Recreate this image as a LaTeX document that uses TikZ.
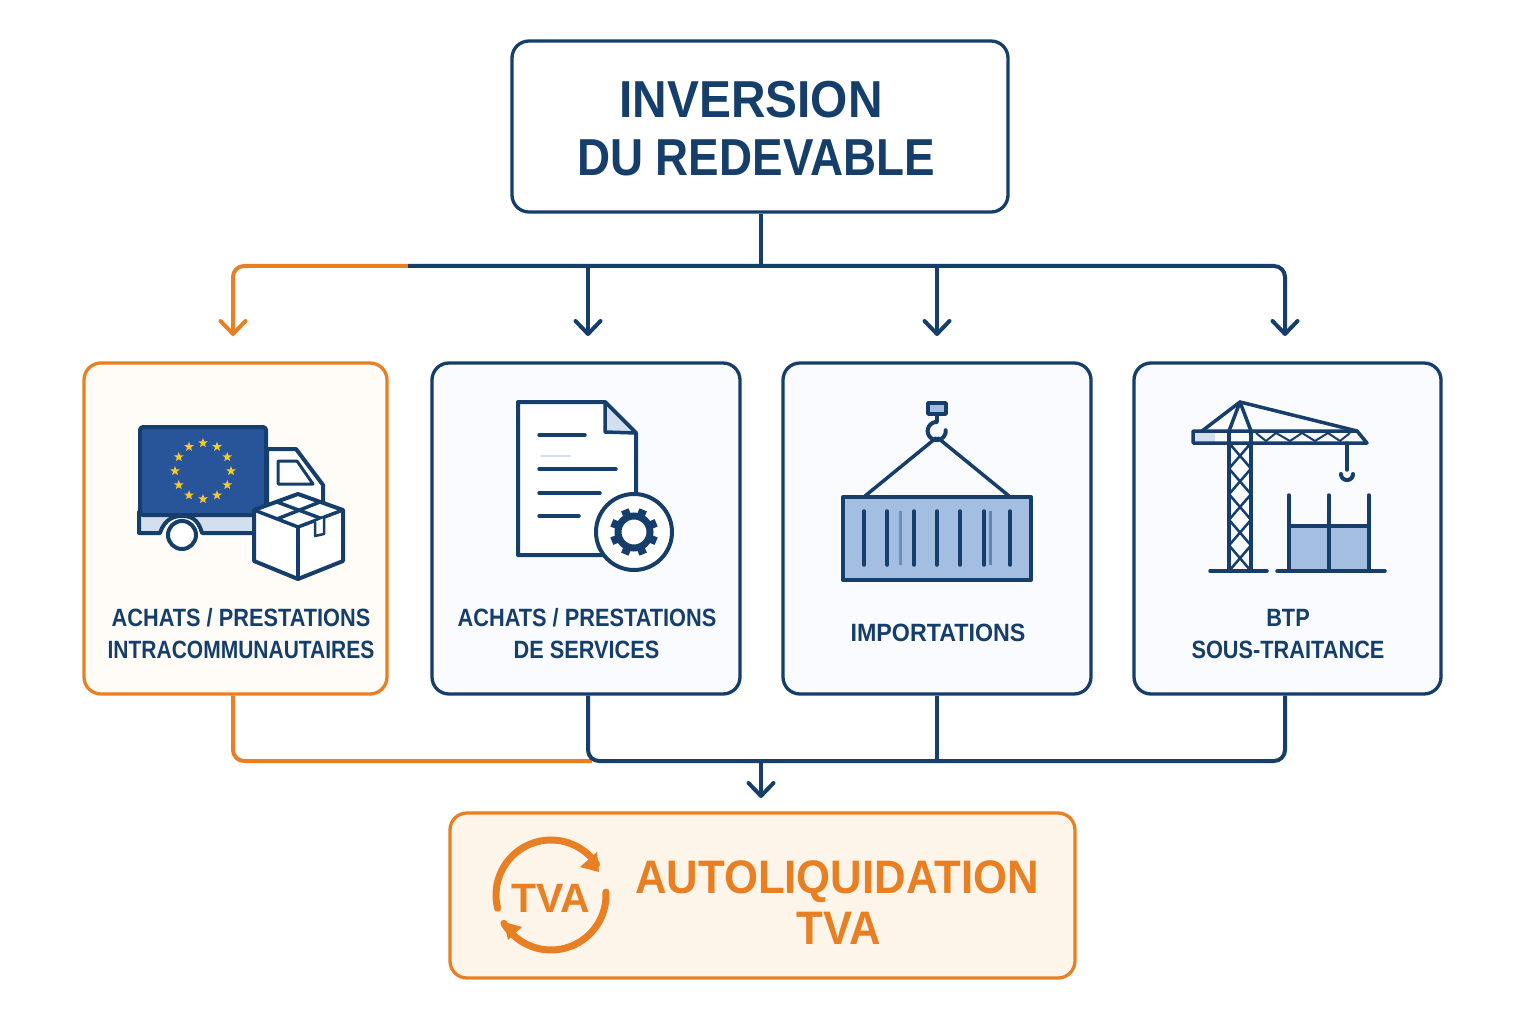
\documentclass[tikz,border=0pt]{standalone}
\usepackage{fontspec}
\usetikzlibrary{arrows.meta,shapes.geometric}
\setmainfont{Liberation Sans}
\newfontfamily\ttlf[FakeStretch=0.92]{Liberation Sans Bold}
\newfontfamily\ttgf[FakeStretch=0.88]{Liberation Sans Bold}
\newfontfamily\labf[FakeStretch=0.84]{Liberation Sans Bold}
\newfontfamily\lbbf[FakeStretch=0.87]{Liberation Sans Bold}
\newfontfamily\impf[FakeStretch=0.93]{Liberation Sans Bold}
\newfontfamily\bigf[FakeStretch=0.93]{Liberation Sans Bold}
\newfontfamily\tvaf[FakeStretch=1.0]{Liberation Sans Bold}
\definecolor{navy}{HTML}{153E6B}
\definecolor{lnavy}{HTML}{1D4A80}
\definecolor{orng}{HTML}{E87F22}
\definecolor{mblue}{HTML}{A3BEE0}
\definecolor{pale}{HTML}{D3DEEE}
\definecolor{eub}{HTML}{28549A}
\definecolor{stary}{HTML}{F6C92F}
\definecolor{cardb}{HTML}{F9FBFE}
\definecolor{cardo}{HTML}{FFFCF8}
\definecolor{cardt}{HTML}{FEF5EA}
\tikzset{
 card/.style={draw=navy,line width=3.3pt,rounded corners=17pt,fill=#1,inner sep=0pt},
 card/.default=cardb,
 conn/.style={draw=navy,line width=4pt,rounded corners=11pt},
 oconn/.style={draw=orng,line width=4pt,rounded corners=11pt},
 arrowtip/.style={-{Straight Barb[length=13pt,width=25pt,line width=4pt,round]}},
 ic/.style={draw=navy,line width=3.5pt,line join=round,line cap=round},
 icb/.style={draw=navy,line width=4pt,line join=round,line cap=round},
 thinl/.style={draw=navy,line width=2pt,line join=round},
 txt/.style={text=navy,anchor=base,inner sep=0pt},
 otxt/.style={text=orng,anchor=base,inner sep=0pt},
 eustar/.style={star,star points=5,star point ratio=2.4,fill=stary,draw=none,minimum size=10pt,inner sep=0pt}
}
\begin{document}
\begin{tikzpicture}[x=1pt,y=-1pt]
\useasboundingbox (0,0) rectangle (1536,1024);
\fill[white] (0,0) rectangle (1536,1024);
% boxes
\node[card=white,minimum width=496pt,minimum height=171pt] (title) at (760,126.5) {};
\node[card=cardo,draw=orng,minimum width=303pt,minimum height=331pt] (c1) at (235.5,528.5) {};
\node[card,minimum width=308pt,minimum height=331pt] (c2) at (586,528.5) {};
\node[card,minimum width=308pt,minimum height=331pt] (c3) at (937,528.5) {};
\node[card,minimum width=307pt,minimum height=331pt] (c4) at (1287.5,528.5) {};
\node[card=cardt,draw=orng,minimum width=625pt,minimum height=165pt] (res) at (762.5,895.5) {};
% connector coordinates
\coordinate (a1) at (233,336);
\coordinate (a2) at (588,336);
\coordinate (a3) at (937,336);
\coordinate (a4) at (1285,336);
\coordinate (busm) at (408,266);
\coordinate (busj) at (761,266);
\coordinate (botj) at (761,761);
\coordinate (botm) at (592,761);
\coordinate (a5) at (761,798);
% top bus
\draw[oconn,arrowtip] (busm) -- (233,266) -- (a1);
\draw[conn] ([xshift=1pt]title.south) -- (busj);
\draw[conn,arrowtip] (busm) -- (1285,266) -- (a4);
\draw[conn,arrowtip] (588,266) -- (a2);
\draw[conn,arrowtip] (937,266) -- (a3);
% bottom bus
\draw[oconn] ([xshift=-2.5pt]c1.south) -- (233,761) -- (botm);
\draw[conn] ([xshift=2pt]c2.south) -- (588,761) -- (1285,761) -- ([xshift=-2.5pt]c4.south);
\draw[conn] (c3.south) -- (937,761);
\draw[conn,arrowtip] (botj) -- (a5);
% texts
\node[txt,font=\ttlf\fontsize{52}{52}\selectfont] (t1) at (751,118) {INVERSION};
\node[txt,font=\ttgf\fontsize{52}{52}\selectfont] (t2) at (756,176) {DU REDEVABLE};
\node[txt,font=\lbbf\fontsize{25}{25}\selectfont] (l1a) at (241,626) {ACHATS / PRESTATIONS};
\node[txt,font=\labf\fontsize{25}{25}\selectfont] (l1b) at (241,658) {INTRACOMMUNAUTAIRES};
\node[txt,font=\lbbf\fontsize{25}{25}\selectfont] (l2a) at (587,626) {ACHATS / PRESTATIONS};
\node[txt,font=\lbbf\fontsize{25}{25}\selectfont] (l2b) at (586.5,658) {DE SERVICES};
\node[txt,font=\impf\fontsize{25}{25}\selectfont] (l3) at (938,641) {IMPORTATIONS};
\node[txt,font=\lbbf\fontsize{25}{25}\selectfont] (l4a) at (1288,626) {BTP};
\node[txt,font=\lbbf\fontsize{25}{25}\selectfont] (l4b) at (1288,658) {SOUS-TRAITANCE};
\node[otxt,font=\bigf\fontsize{47}{47}\selectfont] (r1) at (837,893) {AUTOLIQUIDATION};
\node[otxt,font=\bigf\fontsize{47}{47}\selectfont] (r2) at (839,944) {TVA};
% ---- truck
\draw[icb,fill=white] (267,449) -- (296,449) -- (323,485) -- (323,505) -- (267,505) -- cycle;
\draw[ic,fill=white,line width=3pt] (278,461) -- (278,484) -- (313,484) -- (297,461) -- cycle;
\draw[icb,fill=pale] (139,512) -- (139,533) -- (160,533) .. controls (165,518) and (175,516) .. (182,516) .. controls (190,516) and (198,518) .. (202,533) -- (262,533) -- (262,512) -- cycle;
\draw[icb,fill=eub,rounded corners=3pt] (140,427) rectangle (266,515);
\draw[icb,fill=white] (182,535) circle[radius=14pt];
\foreach \i in {0,...,11}{
  \node[eustar] (st\i) at ({203+28*cos(30*\i)},{471+28*sin(30*\i)}) {};
}
\draw[icb,fill=white] (254,510) -- (298,494) -- (343,510) -- (343,561) -- (298,579) -- (254,561) -- cycle;
\draw[ic] (254,510) -- (298,527) -- (343,510);
\draw[ic] (298,527) -- (298,579);
\draw[ic] (277,502) -- (320,518);
\draw[ic] (320,502) -- (277,519);
\draw[ic,line width=2.5pt,fill=white] (315,522) -- (315,536) -- (324,534) -- (324,518);
% ---- document
\draw[icb,fill=white] (518,402) -- (605,402) -- (636,433) -- (636,555) -- (518,555) -- cycle;
\draw[ic,fill=pale] (605,402) -- (605,432) -- (636,433) -- cycle;
\draw[ic] (539,435) -- (585,435);
\draw[ic] (539,469) -- (616,469);
\draw[ic] (539,493) -- (600,493);
\draw[ic] (539,516) -- (579,516);
\draw[pale,line width=2pt,line cap=round] (541,456) -- (570,456);
\draw[icb,fill=white] (634,532) circle[radius=38pt];
\draw[navy,line width=7pt] (634,532) circle[radius=16pt];
\foreach \a in {0,45,...,315}{
  \draw[navy,line width=8pt] ({634+17*cos(\a+22.5)},{532+17*sin(\a+22.5)}) -- ({634+24*cos(\a+22.5)},{532+24*sin(\a+22.5)});
}
% ---- container
\draw[ic] (936,438) -- (865,496);
\draw[ic] (938,438) -- (1009,496);
\draw[icb,fill=mblue] (843,497) rectangle (1031,580);
\foreach \x in {864,887,914,937,960,984,1010}{
  \draw[ic] (\x,511) -- (\x,565);
}
\draw[lnavy!40!mblue,line width=3pt] (900,511) -- (900,565);
\draw[lnavy!50!mblue,line width=3pt] (990,511) -- (990,565);
\draw[ic,fill=mblue] (928,403) rectangle (946,414);
\draw[ic] (937,414) -- (937,421);
\draw[icb] plot[domain=-5:270,samples=30] ({936.7+9*cos(\x)},{431+9*sin(\x)});
% ---- crane
\fill[pale] (1193,431) rectangle (1215,443);
\draw[ic] (1202,431) -- (1240,402) -- (1357,431);
\draw[ic] (1229,431) -- (1240,402) -- (1251,431);
\foreach \i in {0,...,4}{
  \draw[thinl,line width=2.5pt] (1229,{443+\i*25.6}) -- (1251,{443+(\i+1)*25.6});
  \draw[thinl,line width=2.5pt] (1251,{443+\i*25.6}) -- (1229,{443+(\i+1)*25.6});
}
\draw[ic] (1229,431) -- (1229,571);
\draw[ic] (1251,431) -- (1251,571);
\draw[thinl] plot coordinates {(1256,433) (1266,441) (1276,433) (1290,441) (1302,433) (1315,441) (1328,433) (1340,441) (1350,433)};
\draw[ic] (1193,431) -- (1357,431) -- (1367,443) -- (1193,443) -- cycle;
\draw[ic] (1347,443) -- (1347,470);
\draw[icb] plot[domain=0:180,samples=20] ({1347+6*cos(\x)},{474+6*sin(\x)});
\fill[mblue] (1289,526) rectangle (1369,571);
\draw[ic] (1289,526) -- (1369,526);
\draw[ic] (1289,495) -- (1289,571);
\draw[ic] (1329,495) -- (1329,571);
\draw[ic] (1369,495) -- (1369,571);
\draw[ic] (1210,571) -- (1267,571);
\draw[ic] (1277,571) -- (1385,571);
% ---- TVA icon
\draw[orng,line width=7pt,line cap=round] plot[domain=166:326,samples=40] ({551+55*cos(\x)},{895+55*sin(\x)});
\draw[orng,line width=7pt,line cap=round] plot[domain=-3:149,samples=40] ({551+55*cos(\x)},{895+55*sin(\x)});
\fill[orng] (597,852) -- (580,867) -- (599,872) -- cycle;
\fill[orng] (504,922) -- (522,927) -- (508,940) -- cycle;
\node[otxt,font=\tvaf\fontsize{41}{41}\selectfont] (tv) at (551,912) {TVA};
\end{tikzpicture}
\end{document}
